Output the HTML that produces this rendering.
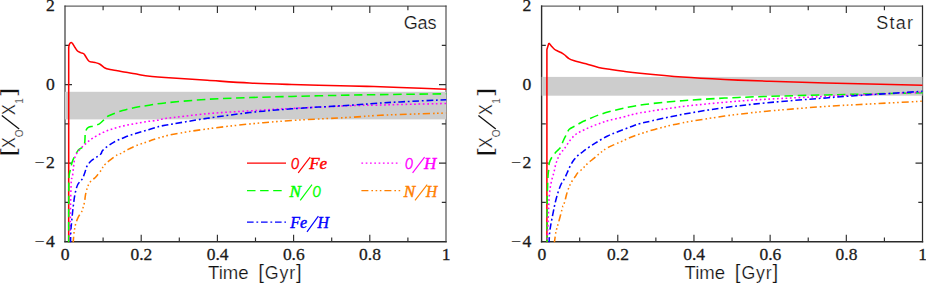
<!DOCTYPE html>
<html><head><meta charset="utf-8"><title>Abundance ratios</title>
<style>html,body{margin:0;padding:0;background:#fff;}body{width:926px;height:284px;overflow:hidden;font-family:"Liberation Sans",sans-serif;}svg{display:block}</style>
</head><body>
<svg width="926" height="284" viewBox="0 0 926 284">
<rect width="926" height="284" fill="#ffffff"/>
<g stroke="#2a2a2a" fill="none" stroke-linecap="square">
<path d="M65.0,6.1 H446.0" stroke-width="1.0" stroke="#3c3c3c"/>
<path d="M65.0,241.7 H446.0" stroke-width="1.45"/>
<path d="M65.0,6.1 V241.7" stroke-width="1.2" stroke="#383838"/>
<path d="M446.0,6.1 V241.7" stroke-width="1.1" stroke="#404040"/>
</g>
<g stroke="#303030" stroke-width="1.15" fill="none" stroke-linecap="butt">
<path d="M103.10,241.7 v-4.2 M103.10,6.1 v4.2 M141.20,241.7 v-7 M141.20,6.1 v7 M179.30,241.7 v-4.2 M179.30,6.1 v4.2 M217.40,241.7 v-7 M217.40,6.1 v7 M255.50,241.7 v-4.2 M255.50,6.1 v4.2 M293.60,241.7 v-7 M293.60,6.1 v7 M331.70,241.7 v-4.2 M331.70,6.1 v4.2 M369.80,241.7 v-7 M369.80,6.1 v7 M407.90,241.7 v-4.2 M407.90,6.1 v4.2 M65.0,45.37 h4.2 M446.0,45.37 h-4.2 M65.0,84.63 h7 M446.0,84.63 h-7 M65.0,123.90 h4.2 M446.0,123.90 h-4.2 M65.0,163.17 h7 M446.0,163.17 h-7 M65.0,202.43 h4.2 M446.0,202.43 h-4.2 "/>
</g>
<g stroke="#2a2a2a" fill="none" stroke-linecap="square">
<path d="M541.6,6.1 H922.5" stroke-width="1.0" stroke="#3c3c3c"/>
<path d="M541.6,241.7 H922.5" stroke-width="1.45"/>
<path d="M541.6,6.1 V241.7" stroke-width="1.4" stroke="#2a2a2a"/>
<path d="M922.5,6.1 V241.7" stroke-width="1.25" stroke="#2a2a2a"/>
</g>
<g stroke="#303030" stroke-width="1.15" fill="none" stroke-linecap="butt">
<path d="M579.69,241.7 v-4.2 M579.69,6.1 v4.2 M617.78,241.7 v-7 M617.78,6.1 v7 M655.87,241.7 v-4.2 M655.87,6.1 v4.2 M693.96,241.7 v-7 M693.96,6.1 v7 M732.05,241.7 v-4.2 M732.05,6.1 v4.2 M770.14,241.7 v-7 M770.14,6.1 v7 M808.23,241.7 v-4.2 M808.23,6.1 v4.2 M846.32,241.7 v-7 M846.32,6.1 v7 M884.41,241.7 v-4.2 M884.41,6.1 v4.2 M541.6,45.37 h4.2 M922.5,45.37 h-4.2 M541.6,84.63 h7 M922.5,84.63 h-7 M541.6,123.90 h4.2 M922.5,123.90 h-4.2 M541.6,163.17 h7 M922.5,163.17 h-7 M541.6,202.43 h4.2 M922.5,202.43 h-4.2 "/>
</g>
<rect x="65.0" y="91.8" width="381.00" height="27.6" fill="#cdcdcd"/>
<rect x="541.6" y="76.9" width="380.90" height="18.8" fill="#cdcdcd"/>
<clipPath id="c1"><rect x="64.4" y="5.5" width="382.20" height="236.80"/></clipPath>
<clipPath id="c2"><rect x="541.0" y="5.5" width="382.10" height="236.80"/></clipPath>
<g clip-path="url(#c1)"><path d="M68.70,243.70 L68.70,47.00" fill="none" stroke="#ff0000" stroke-width="1.55" stroke-linejoin="round"/>
<path d="M68.70,47.00 C68.85,46.47 69.17,44.55 69.60,43.80 C70.02,43.05 70.68,42.43 71.25,42.50 C71.82,42.57 72.38,43.37 73.00,44.20 C73.62,45.03 74.25,46.37 75.00,47.50 C75.75,48.63 76.58,50.15 77.50,51.00 C78.42,51.85 79.46,52.14 80.50,52.60 C81.54,53.06 82.83,53.02 83.75,53.75 C84.67,54.48 85.17,55.79 86.00,57.00 C86.83,58.21 87.75,60.15 88.75,61.00 C89.75,61.85 90.96,61.85 92.00,62.10 C93.04,62.35 93.67,62.14 95.00,62.50 C96.33,62.86 98.33,63.33 100.00,64.25 C101.67,65.17 103.33,67.12 105.00,68.00 C106.67,68.88 107.92,69.04 110.00,69.50 C112.08,69.96 114.83,70.28 117.50,70.75 C120.17,71.22 123.08,71.80 126.00,72.30 C128.92,72.80 132.25,73.25 135.00,73.75 C137.75,74.25 140.00,74.89 142.50,75.30 C145.00,75.71 146.25,75.83 150.00,76.20 C153.75,76.57 155.45,76.82 165.00,77.50 C174.55,78.18 193.20,79.38 207.30,80.30 C221.40,81.22 235.52,82.30 249.60,83.00 C263.68,83.70 274.90,84.00 291.80,84.50 C308.70,85.00 337.30,85.65 351.00,86.00 C364.70,86.35 365.83,86.33 374.00,86.60 C382.17,86.87 387.93,87.17 400.00,87.60 C412.07,88.03 438.67,88.93 446.40,89.20" fill="none" stroke="#ff0000" stroke-width="1.55" stroke-linejoin="round"/>
<path d="M68.70,243.70 C68.70,236.58 68.68,210.78 68.70,201.00 C68.72,191.22 68.72,189.37 68.80,185.00 C68.88,180.63 68.95,177.30 69.20,174.80 C69.45,172.30 69.85,171.97 70.30,170.00 C70.75,168.03 71.28,165.07 71.90,163.00 C72.52,160.93 72.92,159.77 74.00,157.60 C75.08,155.43 76.97,151.73 78.40,150.00 C79.83,148.27 81.57,148.37 82.60,147.20 C83.63,146.03 84.20,144.53 84.60,143.00 C85.00,141.47 84.90,139.50 85.00,138.00 C85.10,136.50 85.03,135.25 85.20,134.00 C85.37,132.75 85.53,131.57 86.00,130.50 C86.47,129.43 86.75,128.35 88.00,127.60 C89.25,126.85 91.60,126.63 93.50,126.00 C95.40,125.37 97.78,124.72 99.40,123.80 C101.02,122.88 102.10,121.55 103.20,120.50 C104.30,119.45 104.87,118.38 106.00,117.50 C107.13,116.62 107.25,116.37 110.00,115.20 C112.75,114.03 118.33,111.78 122.50,110.50 C126.67,109.22 130.83,108.33 135.00,107.50 C139.17,106.67 142.50,106.27 147.50,105.50 C152.50,104.73 155.03,103.93 165.00,102.90 C174.97,101.87 193.20,100.18 207.30,99.30 C221.40,98.42 235.52,98.08 249.60,97.60 C263.68,97.12 274.90,96.82 291.80,96.40 C308.70,95.98 337.30,95.38 351.00,95.10 C364.70,94.82 358.10,94.92 374.00,94.70 C389.90,94.48 434.33,93.95 446.40,93.80" fill="none" stroke="#00ff00" stroke-width="1.55" stroke-dasharray="8.5 4.6" stroke-linejoin="round"/>
<path d="M70.00,243.70 C70.05,240.58 70.20,231.62 70.30,225.00 C70.40,218.38 70.43,211.33 70.60,204.00 C70.77,196.67 71.00,185.50 71.30,181.00 C71.60,176.50 72.03,179.28 72.40,177.00 C72.77,174.72 73.13,170.37 73.50,167.30 C73.87,164.23 74.15,160.77 74.60,158.60 C75.05,156.43 75.48,155.65 76.20,154.30 C76.92,152.95 77.43,152.17 78.90,150.50 C80.37,148.83 82.75,146.32 85.00,144.30 C87.25,142.28 89.37,140.38 92.40,138.40 C95.43,136.42 99.60,134.07 103.20,132.40 C106.80,130.73 110.40,129.53 114.00,128.40 C117.60,127.27 121.20,126.42 124.80,125.60 C128.40,124.78 132.00,124.17 135.60,123.50 C139.20,122.83 142.80,122.13 146.40,121.60 C150.00,121.07 154.10,120.80 157.20,120.30 C160.30,119.80 156.65,119.70 165.00,118.60 C173.35,117.50 193.20,114.98 207.30,113.70 C221.40,112.42 235.52,111.78 249.60,110.90 C263.68,110.02 274.90,109.27 291.80,108.40 C308.70,107.53 337.30,106.23 351.00,105.70 C364.70,105.17 365.83,105.40 374.00,105.20 C382.17,105.00 387.93,104.78 400.00,104.50 C412.07,104.22 438.67,103.67 446.40,103.50" fill="none" stroke="#ff00ff" stroke-width="1.55" stroke-dasharray="1.7 2.6" stroke-linejoin="round"/>
<path d="M70.50,243.70 C70.55,241.75 70.67,235.05 70.80,232.00 C70.93,228.95 70.98,228.90 71.30,225.40 C71.62,221.90 72.33,214.48 72.70,211.00 C73.07,207.52 73.22,206.77 73.50,204.50 C73.78,202.23 74.03,199.65 74.40,197.40 C74.77,195.15 75.13,193.15 75.70,191.00 C76.27,188.85 76.73,186.47 77.80,184.50 C78.87,182.53 80.93,181.17 82.10,179.20 C83.27,177.23 83.98,174.87 84.80,172.70 C85.62,170.53 85.92,168.18 87.00,166.20 C88.08,164.22 89.58,162.38 91.30,160.80 C93.02,159.22 95.68,157.87 97.30,156.70 C98.92,155.53 100.02,154.95 101.00,153.80 C101.98,152.65 101.03,151.75 103.20,149.80 C105.37,147.85 110.40,144.18 114.00,142.10 C117.60,140.02 121.20,138.73 124.80,137.30 C128.40,135.87 132.00,134.67 135.60,133.50 C139.20,132.33 142.80,131.38 146.40,130.30 C150.00,129.22 154.10,127.83 157.20,127.00 C160.30,126.17 156.65,126.75 165.00,125.30 C173.35,123.85 193.20,120.42 207.30,118.30 C221.40,116.18 235.52,114.18 249.60,112.60 C263.68,111.02 274.90,110.03 291.80,108.80 C308.70,107.57 337.30,106.08 351.00,105.20 C364.70,104.32 365.83,104.05 374.00,103.50 C382.17,102.95 387.93,102.53 400.00,101.90 C412.07,101.27 438.67,100.07 446.40,99.70" fill="none" stroke="#0000ff" stroke-width="1.55" stroke-dasharray="6.6 2.8 1.8 2.8" stroke-linejoin="round"/>
<path d="M73.10,243.70 C73.25,241.83 73.70,235.18 74.00,232.50 C74.30,229.82 74.57,229.23 74.90,227.60 C75.23,225.97 75.42,224.50 76.00,222.70 C76.58,220.90 77.38,218.75 78.40,216.80 C79.42,214.85 81.30,212.63 82.10,211.00 C82.90,209.37 82.78,208.53 83.20,207.00 C83.62,205.47 84.23,203.75 84.60,201.80 C84.97,199.85 85.00,197.47 85.40,195.30 C85.80,193.13 86.47,190.60 87.00,188.80 C87.53,187.00 87.88,185.85 88.60,184.50 C89.32,183.15 90.30,181.75 91.30,180.70 C92.30,179.65 93.70,179.00 94.60,178.20 C95.50,177.40 95.63,177.18 96.70,175.90 C97.77,174.62 99.92,172.03 101.00,170.50 C102.08,168.97 102.38,167.87 103.20,166.70 C104.02,165.53 104.55,164.75 105.90,163.50 C107.25,162.25 109.42,160.63 111.30,159.20 C113.18,157.77 115.48,155.90 117.20,154.90 C118.92,153.90 120.15,153.93 121.60,153.20 C123.05,152.47 124.65,151.22 125.90,150.50 C127.15,149.78 127.48,149.67 129.10,148.90 C130.72,148.13 132.72,147.03 135.60,145.90 C138.48,144.77 142.80,143.35 146.40,142.10 C150.00,140.85 152.68,139.72 157.20,138.40 C161.72,137.08 165.15,135.78 173.50,134.20 C181.85,132.62 194.62,130.60 207.30,128.90 C219.98,127.20 235.52,125.40 249.60,124.00 C263.68,122.60 274.90,121.62 291.80,120.50 C308.70,119.38 337.30,118.12 351.00,117.30 C364.70,116.48 365.83,116.07 374.00,115.60 C382.17,115.13 387.93,114.93 400.00,114.50 C412.07,114.07 438.67,113.25 446.40,113.00" fill="none" stroke="#ff8000" stroke-width="1.55" stroke-dasharray="7 3 1.6 2.6 1.6 2.6 1.6 3" stroke-linejoin="round"/></g>
<g clip-path="url(#c2)"><path d="M546.90,243.70 L546.90,49.50 L548.90,43.10" fill="none" stroke="#ff0000" stroke-width="1.55" stroke-linejoin="round"/>
<path d="M548.90,43.10 C549.33,43.62 550.52,45.13 551.50,46.20 C552.48,47.27 553.67,48.67 554.75,49.50 C555.83,50.33 556.96,50.70 558.00,51.20 C559.04,51.70 559.88,51.87 561.00,52.50 C562.12,53.13 563.50,54.04 564.75,55.00 C566.00,55.96 567.04,57.33 568.50,58.25 C569.96,59.17 570.58,59.58 573.50,60.50 C576.42,61.42 581.83,62.58 586.00,63.75 C590.17,64.92 594.33,66.54 598.50,67.50 C602.67,68.46 606.83,68.88 611.00,69.50 C615.17,70.12 618.67,70.63 623.50,71.25 C628.33,71.87 630.20,72.24 640.00,73.20 C649.80,74.16 668.20,75.95 682.30,77.00 C696.40,78.05 710.52,78.80 724.60,79.50 C738.68,80.20 749.90,80.60 766.80,81.20 C783.70,81.80 800.05,82.43 826.00,83.10 C851.95,83.77 906.42,84.85 922.50,85.20" fill="none" stroke="#ff0000" stroke-width="1.55" stroke-linejoin="round"/>
<path d="M547.10,243.70 C547.12,236.58 547.05,212.28 547.20,201.00 C547.35,189.72 547.73,181.27 548.00,176.00 C548.27,170.73 548.58,171.57 548.80,169.40 C549.02,167.23 548.77,165.07 549.30,163.00 C549.83,160.93 550.82,158.90 552.00,157.00 C553.18,155.10 555.32,152.83 556.40,151.60 C557.48,150.37 557.78,150.37 558.50,149.60 C559.22,148.83 559.88,148.52 560.70,147.00 C561.52,145.48 562.50,142.48 563.40,140.50 C564.30,138.52 565.12,136.98 566.10,135.10 C567.08,133.22 567.77,130.73 569.30,129.20 C570.83,127.67 573.40,126.98 575.30,125.90 C577.20,124.82 578.82,123.68 580.70,122.70 C582.58,121.72 583.63,121.28 586.60,120.00 C589.57,118.72 594.43,116.46 598.50,115.00 C602.57,113.54 606.83,112.38 611.00,111.25 C615.17,110.12 617.97,109.38 623.50,108.25 C629.03,107.12 634.40,105.76 644.20,104.50 C654.00,103.24 668.90,101.77 682.30,100.70 C695.70,99.63 710.52,98.82 724.60,98.10 C738.68,97.38 749.90,96.93 766.80,96.40 C783.70,95.87 810.47,95.27 826.00,94.90 C841.53,94.53 849.33,94.43 860.00,94.20 C870.67,93.97 879.58,93.73 890.00,93.50 C900.42,93.27 917.08,92.92 922.50,92.80" fill="none" stroke="#00ff00" stroke-width="1.55" stroke-dasharray="8.5 4.6" stroke-linejoin="round"/>
<path d="M547.20,243.70 C547.28,241.42 547.47,235.62 547.70,230.00 C547.93,224.38 548.42,214.25 548.60,210.00 C548.78,205.75 548.73,206.23 548.80,204.50 C548.87,202.77 548.85,201.68 549.00,199.60 C549.15,197.52 549.47,194.17 549.70,192.00 C549.93,189.83 550.10,188.40 550.40,186.60 C550.70,184.80 551.13,182.80 551.50,181.20 C551.87,179.60 552.23,178.33 552.60,177.00 C552.97,175.67 553.35,174.55 553.70,173.20 C554.05,171.85 554.35,170.43 554.70,168.90 C555.05,167.37 555.35,165.53 555.80,164.00 C556.25,162.47 556.85,161.13 557.40,159.70 C557.95,158.27 558.37,156.75 559.10,155.40 C559.83,154.05 560.90,152.73 561.80,151.60 C562.70,150.47 563.15,150.45 564.50,148.60 C565.85,146.75 567.93,142.93 569.90,140.50 C571.87,138.07 573.88,135.80 576.30,134.00 C578.72,132.20 581.60,131.05 584.40,129.70 C587.20,128.35 590.22,127.07 593.10,125.90 C595.98,124.73 599.00,123.63 601.70,122.70 C604.40,121.77 605.67,121.25 609.30,120.30 C612.93,119.35 618.38,118.23 623.50,117.00 C628.62,115.77 630.20,114.63 640.00,112.90 C649.80,111.17 668.20,108.37 682.30,106.60 C696.40,104.83 710.52,103.53 724.60,102.30 C738.68,101.07 749.90,100.18 766.80,99.20 C783.70,98.22 810.47,97.12 826.00,96.40 C841.53,95.68 849.33,95.37 860.00,94.90 C870.67,94.43 879.58,94.03 890.00,93.60 C900.42,93.17 917.08,92.52 922.50,92.30" fill="none" stroke="#ff00ff" stroke-width="1.55" stroke-dasharray="1.7 2.6" stroke-linejoin="round"/>
<path d="M549.00,243.70 C549.12,241.75 549.42,235.05 549.70,232.00 C549.98,228.95 550.32,227.67 550.70,225.40 C551.08,223.13 551.50,221.00 552.00,218.40 C552.50,215.80 553.25,212.03 553.70,209.80 C554.15,207.57 554.25,206.97 554.70,205.00 C555.15,203.03 555.77,200.33 556.40,198.00 C557.03,195.67 557.70,193.33 558.50,191.00 C559.30,188.67 560.20,186.07 561.20,184.00 C562.20,181.93 563.50,180.48 564.50,178.60 C565.50,176.72 566.30,174.68 567.20,172.70 C568.10,170.72 568.83,168.77 569.90,166.70 C570.97,164.63 572.25,162.18 573.60,160.30 C574.95,158.42 576.65,156.67 578.00,155.40 C579.35,154.13 580.45,153.67 581.70,152.70 C582.95,151.73 583.25,151.18 585.50,149.60 C587.75,148.02 591.60,145.43 595.20,143.20 C598.80,140.97 603.13,138.18 607.10,136.20 C611.07,134.22 614.68,133.02 619.00,131.30 C623.32,129.58 628.80,127.35 633.00,125.90 C637.20,124.45 635.98,124.52 644.20,122.60 C652.42,120.68 668.90,116.90 682.30,114.40 C695.70,111.90 710.52,109.53 724.60,107.60 C738.68,105.67 749.90,104.42 766.80,102.80 C783.70,101.18 810.47,99.13 826.00,97.90 C841.53,96.67 849.33,96.15 860.00,95.40 C870.67,94.65 879.58,94.08 890.00,93.40 C900.42,92.72 917.08,91.65 922.50,91.30" fill="none" stroke="#0000ff" stroke-width="1.55" stroke-dasharray="6.6 2.8 1.8 2.8" stroke-linejoin="round"/>
<path d="M554.20,243.70 C554.47,241.83 555.35,235.10 555.80,232.50 C556.25,229.90 556.48,229.63 556.90,228.10 C557.32,226.57 557.77,225.18 558.30,223.30 C558.83,221.42 559.52,218.97 560.10,216.80 C560.68,214.63 561.35,212.02 561.80,210.30 C562.25,208.58 562.53,207.30 562.80,206.50 C563.07,205.70 563.03,206.47 563.40,205.50 C563.77,204.53 564.47,202.58 565.00,200.70 C565.53,198.82 566.00,196.27 566.60,194.20 C567.20,192.13 567.97,190.00 568.60,188.30 C569.23,186.60 569.65,185.47 570.40,184.00 C571.15,182.53 572.28,180.75 573.10,179.50 C573.92,178.25 574.58,177.55 575.30,176.50 C576.02,175.45 576.42,174.28 577.40,173.20 C578.38,172.12 579.93,171.17 581.20,170.00 C582.47,168.83 583.83,167.37 585.00,166.20 C586.17,165.03 586.67,164.35 588.20,163.00 C589.73,161.65 592.48,159.55 594.20,158.10 C595.92,156.65 597.07,155.48 598.50,154.30 C599.93,153.12 601.55,151.95 602.80,151.00 C604.05,150.05 604.38,149.53 606.00,148.60 C607.62,147.67 609.80,146.65 612.50,145.40 C615.20,144.15 618.60,142.67 622.20,141.10 C625.80,139.53 628.67,137.95 634.10,136.00 C639.53,134.05 646.77,131.58 654.80,129.40 C662.83,127.22 670.67,125.12 682.30,122.90 C693.93,120.68 710.52,118.05 724.60,116.10 C738.68,114.15 749.90,112.82 766.80,111.20 C783.70,109.58 810.47,107.52 826.00,106.40 C841.53,105.28 843.92,105.37 860.00,104.50 C876.08,103.63 912.08,101.75 922.50,101.20" fill="none" stroke="#ff8000" stroke-width="1.55" stroke-dasharray="7 3 1.6 2.6 1.6 2.6 1.6 3" stroke-linejoin="round"/></g>
<g font-family="Liberation Serif, serif" font-size="16" fill="#1a1a1a" stroke="#1a1a1a" stroke-width="0.28">
<text x="60.80" y="259.9" textLength="8.8" lengthAdjust="spacingAndGlyphs">0</text>
<text x="130.50" y="259.9" textLength="21.8" lengthAdjust="spacingAndGlyphs">0.2</text>
<text x="206.70" y="259.9" textLength="21.8" lengthAdjust="spacingAndGlyphs">0.4</text>
<text x="282.90" y="259.9" textLength="21.8" lengthAdjust="spacingAndGlyphs">0.6</text>
<text x="359.10" y="259.9" textLength="21.8" lengthAdjust="spacingAndGlyphs">0.8</text>
<text x="441.80" y="259.9" textLength="8.8" lengthAdjust="spacingAndGlyphs">1</text>
<text x="46.00" y="11.30" textLength="8.8" lengthAdjust="spacingAndGlyphs">2</text>
<text x="46.00" y="89.83" textLength="8.8" lengthAdjust="spacingAndGlyphs">0</text>
<text x="46.00" y="168.37" textLength="8.8" lengthAdjust="spacingAndGlyphs">2</text>
<text x="34.40" y="168.37" textLength="10.2" lengthAdjust="spacingAndGlyphs" stroke-width="0.1">−</text>
<text x="46.00" y="246.90" textLength="8.8" lengthAdjust="spacingAndGlyphs">4</text>
<text x="34.40" y="246.90" textLength="10.2" lengthAdjust="spacingAndGlyphs" stroke-width="0.1">−</text>
</g>
<g font-family="Liberation Serif, serif" font-size="16" fill="#1a1a1a" stroke="#1a1a1a" stroke-width="0.28">
<text x="537.40" y="259.9" textLength="8.8" lengthAdjust="spacingAndGlyphs">0</text>
<text x="607.08" y="259.9" textLength="21.8" lengthAdjust="spacingAndGlyphs">0.2</text>
<text x="683.26" y="259.9" textLength="21.8" lengthAdjust="spacingAndGlyphs">0.4</text>
<text x="759.44" y="259.9" textLength="21.8" lengthAdjust="spacingAndGlyphs">0.6</text>
<text x="835.62" y="259.9" textLength="21.8" lengthAdjust="spacingAndGlyphs">0.8</text>
<text x="918.30" y="259.9" textLength="8.8" lengthAdjust="spacingAndGlyphs">1</text>
<text x="522.60" y="11.30" textLength="8.8" lengthAdjust="spacingAndGlyphs">2</text>
<text x="522.60" y="89.83" textLength="8.8" lengthAdjust="spacingAndGlyphs">0</text>
<text x="522.60" y="168.37" textLength="8.8" lengthAdjust="spacingAndGlyphs">2</text>
<text x="511.00" y="168.37" textLength="10.2" lengthAdjust="spacingAndGlyphs" stroke-width="0.1">−</text>
<text x="522.60" y="246.90" textLength="8.8" lengthAdjust="spacingAndGlyphs">4</text>
<text x="511.00" y="246.90" textLength="10.2" lengthAdjust="spacingAndGlyphs" stroke-width="0.1">−</text>
</g>
<g font-family="Liberation Sans, sans-serif" fill="#101010" stroke="#ffffff" stroke-width="0.22">
<text x="208.00" y="279" font-size="17.8" textLength="40.6" lengthAdjust="spacingAndGlyphs">Time</text>
<text x="258.30" y="279" font-size="17.8" textLength="43.4" lengthAdjust="spacing"><tspan font-size="20.5">[</tspan>Gyr<tspan font-size="20.5">]</tspan></text>
<text x="436.40" y="29" font-size="18" text-anchor="end" textLength="32.6" lengthAdjust="spacing">Gas</text>
<g transform="translate(15.00,154.4) rotate(-90)">
<text x="-2.0" y="0" font-size="19.5" textLength="8.2" lengthAdjust="spacingAndGlyphs">[</text>
<text x="6.3" y="0" font-size="17.6" textLength="10.8" lengthAdjust="spacingAndGlyphs">X</text>
<text x="17.2" y="8.4" font-size="10.8" textLength="7.8" lengthAdjust="spacingAndGlyphs">O</text>
<path d="M25.4,4.2 L39.0,-13.2" stroke="#101010" stroke-width="1.25" fill="none"/>
<text x="39.3" y="0" font-size="17.6" textLength="10.8" lengthAdjust="spacingAndGlyphs">X</text>
<text x="50.6" y="8.4" font-size="10.8" textLength="5.6" lengthAdjust="spacingAndGlyphs">1</text>
<text x="58.6" y="0" font-size="19.5" textLength="8.2" lengthAdjust="spacingAndGlyphs">]</text>
</g>
</g>
<g font-family="Liberation Sans, sans-serif" fill="#101010" stroke="#ffffff" stroke-width="0.22">
<text x="684.55" y="279" font-size="17.8" textLength="40.6" lengthAdjust="spacingAndGlyphs">Time</text>
<text x="734.85" y="279" font-size="17.8" textLength="43.4" lengthAdjust="spacing"><tspan font-size="20.5">[</tspan>Gyr<tspan font-size="20.5">]</tspan></text>
<text x="912.90" y="29" font-size="18" text-anchor="end" textLength="36.6" lengthAdjust="spacing">Star</text>
<g transform="translate(491.60,154.4) rotate(-90)">
<text x="-2.0" y="0" font-size="19.5" textLength="8.2" lengthAdjust="spacingAndGlyphs">[</text>
<text x="6.3" y="0" font-size="17.6" textLength="10.8" lengthAdjust="spacingAndGlyphs">X</text>
<text x="17.2" y="8.4" font-size="10.8" textLength="7.8" lengthAdjust="spacingAndGlyphs">O</text>
<path d="M25.4,4.2 L39.0,-13.2" stroke="#101010" stroke-width="1.25" fill="none"/>
<text x="39.3" y="0" font-size="17.6" textLength="10.8" lengthAdjust="spacingAndGlyphs">X</text>
<text x="50.6" y="8.4" font-size="10.8" textLength="5.6" lengthAdjust="spacingAndGlyphs">1</text>
<text x="58.6" y="0" font-size="19.5" textLength="8.2" lengthAdjust="spacingAndGlyphs">]</text>
</g>
</g>
<path d="M247,163.17 H286" stroke="#ff0000" stroke-width="1.2" fill="none"/>
<g font-family="Liberation Serif, serif" font-style="italic" font-size="17" fill="#ff0000" stroke="#ff0000" stroke-width="0.45">
<text x="290.9" y="169.37" textLength="8.2" lengthAdjust="spacingAndGlyphs">O</text>
<text x="309.2" y="169.37" textLength="17.9" lengthAdjust="spacingAndGlyphs">Fe</text>
</g>
<path d="M298.2,172.97 L310.2,157.17" stroke="#ff0000" stroke-width="1.15" fill="none"/>
<path d="M247,190.65 H286" stroke="#00ff00" stroke-width="1.2" stroke-dasharray="8.5 4.6" fill="none"/>
<g font-family="Liberation Serif, serif" font-style="italic" font-size="17" fill="#00ff00" stroke="#00ff00" stroke-width="0.45">
<text x="289.4" y="196.85" textLength="11.4" lengthAdjust="spacingAndGlyphs">N</text>
<text x="312.4" y="196.85" textLength="8.4" lengthAdjust="spacingAndGlyphs">O</text>
</g>
<path d="M300.2,200.45 L312.0,184.65" stroke="#00ff00" stroke-width="1.15" fill="none"/>
<path d="M247,222.07 H286" stroke="#0000ff" stroke-width="1.2" stroke-dasharray="6.6 2.8 1.8 2.8" fill="none"/>
<g font-family="Liberation Serif, serif" font-style="italic" font-size="17" fill="#0000ff" stroke="#0000ff" stroke-width="0.45">
<text x="290.3" y="228.27" textLength="16.8" lengthAdjust="spacingAndGlyphs">Fe</text>
<text x="317.6" y="228.27" textLength="11.4" lengthAdjust="spacingAndGlyphs">H</text>
</g>
<path d="M307.0,231.87 L318.4,216.07" stroke="#0000ff" stroke-width="1.15" fill="none"/>
<path d="M361.4,163.17 H400.2" stroke="#ff00ff" stroke-width="1.2" stroke-dasharray="1.7 2.6" fill="none"/>
<g font-family="Liberation Serif, serif" font-style="italic" font-size="17" fill="#ff00ff" stroke="#ff00ff" stroke-width="0.45">
<text x="405.0" y="169.37" textLength="8.0" lengthAdjust="spacingAndGlyphs">O</text>
<text x="424.0" y="169.37" textLength="12.3" lengthAdjust="spacingAndGlyphs">H</text>
</g>
<path d="M412.6,172.97 L424.6,157.17" stroke="#ff00ff" stroke-width="1.15" fill="none"/>
<path d="M361.4,190.65 H400.2" stroke="#ff8000" stroke-width="1.2" stroke-dasharray="7 3 1.6 2.6 1.6 2.6 1.6 3" fill="none"/>
<g font-family="Liberation Serif, serif" font-style="italic" font-size="17" fill="#ff8000" stroke="#ff8000" stroke-width="0.45">
<text x="403.8" y="196.85" textLength="11.4" lengthAdjust="spacingAndGlyphs">N</text>
<text x="426.0" y="196.85" textLength="11.2" lengthAdjust="spacingAndGlyphs">H</text>
</g>
<path d="M415.0,200.45 L427.2,184.65" stroke="#ff8000" stroke-width="1.15" fill="none"/>
</svg>
</body></html>
